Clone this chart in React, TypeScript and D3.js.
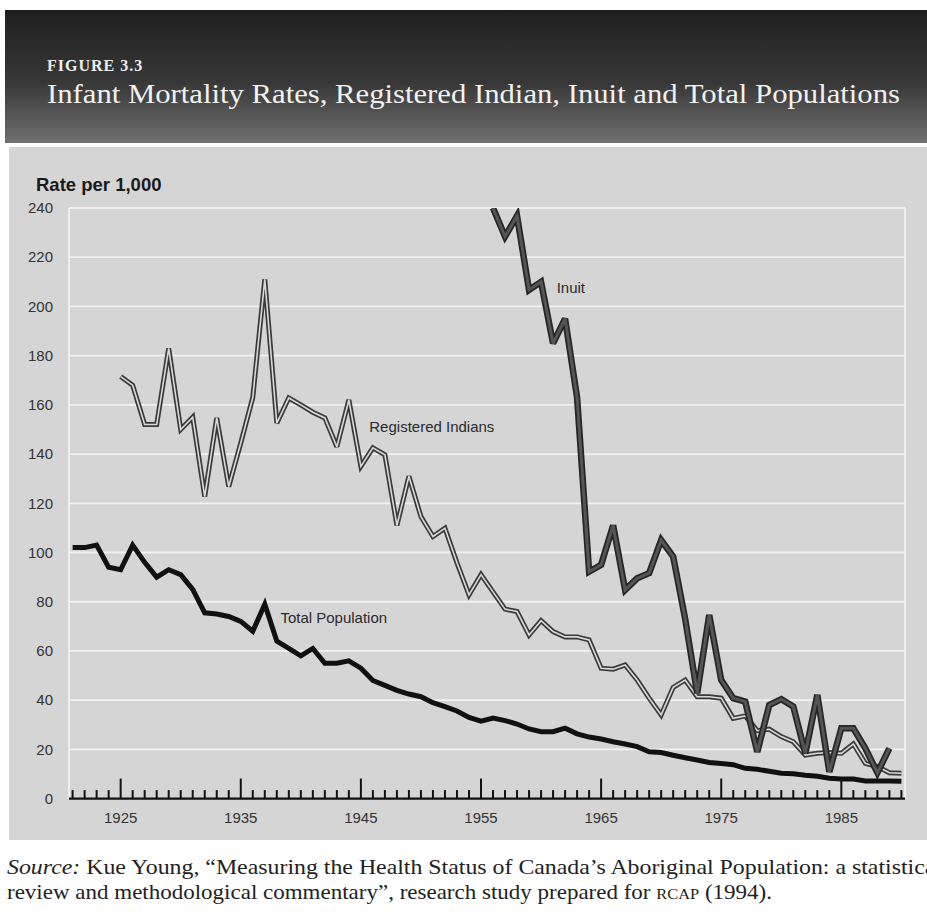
import * as d3 from 'd3';

// first year of each series, values are one per year
const totalStart = 1921;
const totalRates = [
  102, 102, 103, 94, 93, 103, 96, 90, 93, 91,
  85, 75.5, 75, 74, 72, 68, 79, 64, 61, 58,
  61, 55, 55, 56, 53, 48, 46, 44, 42.5, 41.4,
  39, 37.4, 35.6, 33, 31.5, 32.7, 31.7, 30.3, 28.3, 27.2,
  27.2, 28.6, 26.3, 25, 24.2, 23.1, 22.2, 21.1, 19, 18.7,
  17.6, 16.6, 15.7, 14.7, 14.3, 13.8, 12.3, 11.9, 11.1, 10.3,
  10.1, 9.5, 9.1, 8.3, 8, 8, 7.2, 7.2, 7.2, 7.1,
];

const indianStart = 1925;
const indianRates = [
  171.5, 168, 152, 152, 183, 150, 155, 122.7, 154.7, 126.8,
  144.5, 163, 211, 152.6, 162.8, 160, 157, 154.7, 143, 162,
  135, 142.5, 139.7, 111, 131, 114.6, 106.5, 109.9, 95.8, 82.8,
  91, 84, 77, 76, 66.5, 72.3, 67.9, 65.7, 65.7, 64.5,
  53, 52.6, 54.3, 48.2, 40.8, 34, 45.2, 48.2, 41.4, 41.4,
  40.8, 32.6, 33.6, 27.6, 28.2, 25.2, 23.1, 17.7, 18.4, 18.7,
  18.4, 22.2, 14.3, 13, 10.5, 10.3,
];

const inuitStart = 1956;
const inuitRates = [
  240, 228.4, 236.8, 206.7, 210, 185, 195, 163, 92.2, 95,
  111, 84.8, 89.5, 91.6, 105, 98.3, 73, 42.8, 74.6, 48.2,
  40.8, 39.4, 19, 38, 40.4, 37.4, 18.4, 42.1, 10.9, 28.6,
  28.6, 20.4, 10.5, 20.4,
];

const yTicks = [0, 20, 40, 60, 80, 100, 120, 140, 160, 180, 200, 220, 240];
const yearTicks = d3.range(1921, 1991);
const labelYears = [1925, 1935, 1945, 1955, 1965, 1975, 1985];

const seriesLabels = [
  { text: 'Inuit', year: 1961.3, value: 205.5 },
  { text: 'Registered Indians', year: 1945.7, value: 149 },
  { text: 'Total Population', year: 1938.3, value: 71.4 },
];

const sans = '"Liberation Sans", Arial, Helvetica, sans-serif';
const serif = '"Liberation Serif", "Times New Roman", serif';

type Pt = { year: number; value: number };

function toPoints(start: number, values: number[]): Pt[] {
  return values.map((value, i) => ({ year: start + i, value }));
}

export default function App() {
  const width = 927;
  const height = 923;
  const plot = { left: 69, right: 905, top: 208, bottom: 798.6 };

  const x = d3.scaleLinear().domain([1920.7, 1990.3]).range([plot.left, plot.right]);
  const y = d3.scaleLinear().domain([0, 240]).range([plot.bottom, plot.top]);

  const line = d3
    .line<Pt>()
    .x((d) => x(d.year))
    .y((d) => y(d.value))
    .curve(d3.curveLinear);

  const totalPath = line(toPoints(totalStart, totalRates)) ?? '';
  const indianPath = line(toPoints(indianStart, indianRates)) ?? '';
  const inuitPath = line(toPoints(inuitStart, inuitRates)) ?? '';

  return (
    <div style={{ position: 'absolute', left: 0, top: 0, width, height, background: '#fff', overflow: 'hidden' }}>
      <svg width={width} height={height} viewBox={`0 0 ${width} ${height}`}>
        <defs>
          <linearGradient id="hdr" x1="0" y1="0" x2="0" y2="1">
            <stop offset="0" stopColor="#1f1f1f" />
            <stop offset="0.55" stopColor="#383838" />
            <stop offset="1" stopColor="#707070" />
          </linearGradient>
          <clipPath id="plot-clip">
            <rect x={plot.left} y={plot.top} width={plot.right - plot.left} height={plot.bottom - plot.top + 4} />
          </clipPath>
        </defs>

        {/* header band */}
        <rect x={5} y={10} width={width - 5} height={133} fill="url(#hdr)" />
        <text x={47} y={71} fill="#eee" fontFamily={serif} fontSize={16} fontWeight="bold" letterSpacing={1}>
          FIGURE 3.3
        </text>
        <text
          x={47}
          y={103}
          fill="#f2f2f2"
          fontFamily={serif}
          fontSize={27}
          textLength={853}
          lengthAdjust="spacingAndGlyphs"
        >
          Infant Mortality Rates, Registered Indian, Inuit and Total Populations
        </text>

        {/* chart panel */}
        <rect x={9} y={147} width={width - 9} height={693} fill="#d5d5d5" />

        {/* grid */}
        {yTicks.slice(1).map((t) => (
          <line key={t} x1={plot.left} x2={plot.right} y1={y(t)} y2={y(t)} stroke="#f2f2f2" strokeWidth={1.8} />
        ))}
        <line x1={plot.left} x2={plot.left} y1={plot.top} y2={plot.bottom} stroke="#f2f2f2" strokeWidth={1.8} />
        <line x1={plot.right} x2={plot.right} y1={plot.top} y2={plot.bottom} stroke="#f2f2f2" strokeWidth={1.8} />

        {/* y axis labels */}
        {yTicks.map((t) => (
          <text
            key={t}
            x={53}
            y={y(t)}
            dy="0.35em"
            textAnchor="end"
            fontFamily={sans}
            fontSize={15}
            fill="#333"
          >
            {t}
          </text>
        ))}
        <text x={36} y={191} fontFamily={sans} fontSize={18.5} fontWeight="bold" fill="#1a1a1a">
          Rate per 1,000
        </text>

        {/* lines */}
        <g clipPath="url(#plot-clip)" fill="none" strokeLinejoin="miter" strokeMiterlimit={3}>
          <path d={indianPath} stroke="#3a3a3a" strokeWidth={5} />
          <path d={indianPath} stroke="#d9d9d9" strokeWidth={1.6} />
          <path d={inuitPath} stroke="#262626" strokeWidth={6.5} />
          <path d={inuitPath} stroke="#555" strokeWidth={3} />
          <path d={totalPath} stroke="#111" strokeWidth={5} />
        </g>

        {/* x axis */}
        <line x1={plot.left} x2={plot.right} y1={plot.bottom} y2={plot.bottom} stroke="#111" strokeWidth={2.2} />
        {yearTicks.map((yr) => {
          const major = labelYears.includes(yr);
          return (
            <line
              key={yr}
              x1={x(yr)}
              x2={x(yr)}
              y1={plot.bottom}
              y2={plot.bottom - (major ? 20 : 8.5)}
              stroke="#111"
              strokeWidth={2}
            />
          );
        })}
        {labelYears.map((yr) => (
          <text key={yr} x={x(yr)} y={823} textAnchor="middle" fontFamily={sans} fontSize={15} fill="#333">
            {yr}
          </text>
        ))}

        {/* series labels */}
        {seriesLabels.map((l) => (
          <text key={l.text} x={x(l.year)} y={y(l.value)} fontFamily={sans} fontSize={15} fill="#2a2a2a">
            {l.text}
          </text>
        ))}

        {/* source note */}
        <text
          x={7}
          y={874}
          fontFamily={serif}
          fontSize={21}
          fill="#222"
          textLength={935}
          lengthAdjust="spacingAndGlyphs"
        >
          <tspan fontStyle="italic">Source:</tspan> Kue Young, “Measuring the Health Status of Canada’s Aboriginal
          Population: a statistical
        </text>
        <text
          x={7}
          y={899}
          fontFamily={serif}
          fontSize={21}
          fill="#222"
          textLength={765}
          lengthAdjust="spacingAndGlyphs"
        >
          review and methodological commentary”, research study prepared for <tspan fontSize={15}>RCAP</tspan> (1994).
        </text>
      </svg>
    </div>
  );
}
